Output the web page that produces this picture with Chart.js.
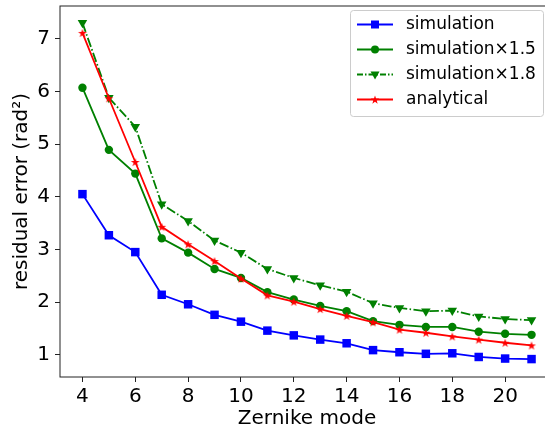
<!DOCTYPE html>
<html>
<head>
<meta charset="utf-8">
<script src="https://cdn.jsdelivr.net/npm/chart.js@4.4.0/dist/chart.umd.min.js"></script>
<style>
    html, body { margin: 0; padding: 0; overflow: hidden; background: #fff; }
    #wrap { width: 560px; height: 435px; }
</style>
</head>
<body>
<div id="wrap"><canvas id="zernikeChart" width="560" height="435"></canvas></div>
<script>
// values
const modes = [4, 5, 6, 7, 8, 9, 10, 11, 12, 13, 14, 15, 16, 17, 18, 19, 20, 21];
const simulation = [4.05, 3.27, 2.95, 2.14, 1.96, 1.76, 1.63, 1.46, 1.37, 1.29, 1.22, 1.09, 1.05, 1.02, 1.03, 0.96, 0.93, 0.92];
const simulation15 = [6.07, 4.89, 4.44, 3.21, 2.94, 2.63, 2.46, 2.19, 2.05, 1.93, 1.83, 1.64, 1.57, 1.53, 1.53, 1.44, 1.40, 1.38];
const simulation18 = [7.30, 5.88, 5.33, 3.86, 3.54, 3.17, 2.94, 2.63, 2.46, 2.32, 2.20, 1.98, 1.89, 1.83, 1.84, 1.73, 1.68, 1.66];
const analytical = [7.11, 5.87, 4.66, 3.43, 3.10, 2.78, 2.45, 2.13, 2.01, 1.87, 1.74, 1.62, 1.48, 1.42, 1.35, 1.29, 1.23, 1.18];
const xTicks = [4, 6, 8, 10, 12, 14, 16, 18, 20];
const yTicks = [1, 2, 3, 4, 5, 6, 7];

const FONT = 'DejaVu Sans';
const DASHDOT = [9.6, 2.4, 1.5, 2.4];

function starPath(ctx, cx, cy, outer, inner) {
    ctx.beginPath();
    for (let i = 0; i < 10; i++) {
        const r = i % 2 === 0 ? outer : inner;
        const a = -Math.PI / 2 + i * Math.PI / 5;
        const px = cx + r * Math.cos(a);
        const py = cy + r * Math.sin(a);
        if (i === 0) ctx.moveTo(px, py); else ctx.lineTo(px, py);
    }
    ctx.closePath();
}

function makeStar(color, r) {
    const c = document.createElement('canvas');
    const s = Math.ceil(r * 2) + 2;
    c.width = s;
    c.height = s;
    const g = c.getContext('2d');
    starPath(g, s / 2, s / 2 + 0.5, r, r * 0.4);
    g.fillStyle = color;
    g.fill();
    return c;
}

function toPoints(values) {
    return modes.map((m, i) => ({ x: m, y: values[i] }));
}

// marker drawing for the legend
function drawMarker(ctx, kind, x, y, color) {
    ctx.save();
    ctx.fillStyle = color;
    ctx.setLineDash([]);
    if (kind === 'square') {
        ctx.fillRect(x - 4, y - 4, 8, 8);
    } else if (kind === 'circle') {
        ctx.beginPath();
        ctx.arc(x, y, 4, 0, Math.PI * 2);
        ctx.fill();
    } else if (kind === 'tri') {
        ctx.beginPath();
        ctx.moveTo(x - 4.5, y - 3);
        ctx.lineTo(x + 4.5, y - 3);
        ctx.lineTo(x, y + 5);
        ctx.closePath();
        ctx.fill();
    } else if (kind === 'star') {
        starPath(ctx, x, y + 0.5, 4.5, 1.8);
        ctx.fill();
    }
    ctx.restore();
}

const legendItems = [
    { label: 'simulation', color: '#0000ff', dash: [], marker: 'square' },
    { label: 'simulation\u00d71.5', color: '#008000', dash: [], marker: 'circle' },
    { label: 'simulation\u00d71.8', color: '#008000', dash: [6, 2, 1.5, 2], marker: 'tri' },
    { label: 'analytical', color: '#ff0000', dash: [], marker: 'star' }
];

const framePlugin = {
    id: 'frame',
    afterDraw(chart) {
        const ctx = chart.ctx;
        const a = chart.chartArea;
        ctx.save();
        ctx.strokeStyle = '#222';
        ctx.lineWidth = 1;
        ctx.strokeRect(a.left, a.top, a.right - a.left, a.bottom - a.top);

        // legend box, top right inside the axes
        const bx = 350.5, by = 10.5, bw = 193, bh = 106;
        ctx.beginPath();
        ctx.roundRect(bx, by, bw, bh, 3);
        ctx.fillStyle = 'rgba(255,255,255,0.8)';
        ctx.fill();
        ctx.strokeStyle = '#cccccc';
        ctx.stroke();

        ctx.font = '17px "' + FONT + '"';
        ctx.textBaseline = 'middle';
        ctx.textAlign = 'left';
        legendItems.forEach((item, i) => {
            const y = 24.5 + i * 25;
            ctx.beginPath();
            ctx.setLineDash(item.dash);
            ctx.strokeStyle = item.color;
            ctx.lineWidth = 1.8;
            ctx.moveTo(357, y);
            ctx.lineTo(393, y);
            ctx.stroke();
            drawMarker(ctx, item.marker, 375, y, item.color);
            ctx.fillStyle = '#000';
            ctx.fillText(item.label, 406, y);
        });
        ctx.restore();
    }
};

const ctx = document.getElementById('zernikeChart').getContext('2d');
new Chart(ctx, {
    type: 'line',
    data: {
        datasets: [
            {
                label: 'simulation',
                data: toPoints(simulation),
                borderColor: '#0000ff',
                backgroundColor: '#0000ff',
                borderWidth: 1.8,
                pointStyle: 'rect',
                pointRadius: 6,
                pointBorderWidth: 0,
                order: 3
            },
            {
                label: 'simulation\u00d71.5',
                data: toPoints(simulation15),
                borderColor: '#008000',
                backgroundColor: '#008000',
                borderWidth: 1.8,
                pointStyle: 'circle',
                pointRadius: 4.2,
                pointBorderWidth: 0,
                order: 2
            },
            {
                label: 'simulation\u00d71.8',
                data: toPoints(simulation18),
                borderColor: '#008000',
                backgroundColor: '#008000',
                borderWidth: 1.8,
                borderDash: DASHDOT,
                pointStyle: 'triangle',
                pointRotation: 180,
                pointRadius: 5.5,
                pointBorderWidth: 0,
                order: 1
            },
            {
                label: 'analytical',
                data: toPoints(analytical),
                borderColor: '#ff0000',
                backgroundColor: '#ff0000',
                borderWidth: 1.8,
                pointStyle: makeStar('#ff0000', 4.6),
                pointBorderWidth: 0,
                order: 0
            }
        ]
    },
    options: {
        responsive: false,
        animation: false,
        events: [],
        layout: { padding: { top: 2, right: 3, left: 0, bottom: 0 } },
        plugins: {
            legend: { display: false },
            tooltip: { enabled: false }
        },
        scales: {
            x: {
                type: 'linear',
                min: 3.15,
                max: 21.85,
                afterBuildTicks: s => { s.ticks = xTicks.map(v => ({ value: v })); },
                afterFit: s => { s.height = 58; s.paddingLeft = 0; s.paddingRight = 0; },
                grid: { drawOnChartArea: false, drawTicks: true, tickLength: 5, color: '#222' },
                border: { display: false },
                ticks: { font: { family: FONT, size: 20 }, color: '#000', padding: 3, maxRotation: 0, autoSkip: false },
                title: { display: true, text: 'Zernike mode', font: { family: FONT, size: 20 }, color: '#000', padding: { top: 0, bottom: 4 } }
            },
            y: {
                min: 0.58,
                max: 7.62,
                afterBuildTicks: s => { s.ticks = yTicks.map(v => ({ value: v })); },
                afterFit: s => { s.width = 60; s.paddingTop = 0; s.paddingBottom = 0; },
                grid: { drawOnChartArea: false, drawTicks: true, tickLength: 5, color: '#222' },
                border: { display: false },
                ticks: { font: { family: FONT, size: 20 }, color: '#000', padding: 5 },
                title: { display: true, text: 'residual error (rad\u00b2)', font: { family: FONT, size: 20 }, color: '#000', padding: { top: 10, bottom: 0 } }
            }
        }
    },
    plugins: [framePlugin]
});
</script>
</body>
</html>
